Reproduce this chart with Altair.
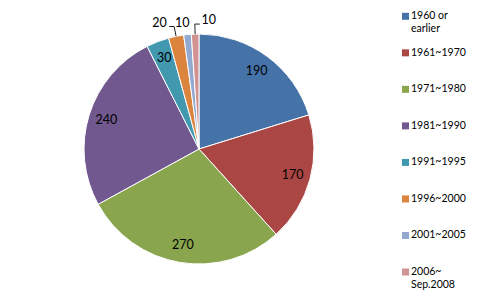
import altair as alt
import pandas as pd

periods = ["1960 or earlier", "1961~1970", "1971~1980", "1981~1990",
           "1991~1995", "1996~2000", "2001~2005", "2006~Sep.2008"]
legend_labels = ["1960 or\nearlier", "1961~1970", "1971~1980", "1981~1990",
                 "1991~1995", "1996~2000", "2001~2005", "2006~\nSep.2008"]
counts = [190, 170, 270, 240, 30, 20, 10, 10]
colors = ["#4572A7", "#AA4643", "#89A54E", "#71588F",
          "#4198AF", "#DB843D", "#93A9CF", "#D19392"]

df = pd.DataFrame({
    "period": periods,
    "label": legend_labels,
    "count": counts,
    "order": list(range(len(periods))),
})

CX, CY, R = 199, 149, 115
FONT = "Lato"

color_enc = alt.Color("period:N", scale=alt.Scale(domain=periods, range=colors), legend=None)

pie = alt.Chart(df).mark_arc(outerRadius=R, stroke="white", strokeWidth=1).encode(
    theta=alt.Theta("count:Q", stack=True),
    order=alt.Order("order:Q"),
    color=color_enc,
    x=alt.value(CX), y=alt.value(CY),
)

geo = alt.Chart(df).transform_window(
    cum="sum(count)", sort=[alt.SortField("order")]
).transform_joinaggregate(
    total="sum(count)"
).transform_calculate(
    mid="(datum.cum - datum.count / 2) / datum.total * 2 * PI"
)

txt_style = dict(font=FONT, fontSize=12.5, color="black", align="center", baseline="middle")

inside = geo.transform_filter("datum.count >= 25").mark_text(radius=97, **txt_style).encode(
    theta=alt.Theta("mid:Q", scale=None), text="count:Q",
    x=alt.value(CX), y=alt.value(CY),
)

def outer(period, dx, dy):
    return geo.transform_filter(alt.datum.period == period).mark_text(
        radius=128, dx=dx, dy=dy, **txt_style
    ).encode(
        theta=alt.Theta("mid:Q", scale=None), text="count:Q",
        x=alt.value(CX), y=alt.value(CY),
    )

out_a = outer(periods[5], -14, -1)
out_b = outer(periods[6], -4, 1)
out_c = outer(periods[7], 14, -1)

leader = geo.transform_filter(
    (alt.datum.period == periods[5]) | (alt.datum.period == periods[7])
).transform_calculate(
    dir=f"datum.period === '{periods[7]}' ? 1 : -1",
    x0=f"{CX} + {R} * sin(datum.mid)",
    y0=f"{CY} - {R} * cos(datum.mid)",
    x1=f"{CX} + 125 * sin(datum.mid)",
    y1=f"{CY} - 125 * cos(datum.mid)",
).transform_calculate(
    x2="datum.x1 + datum.dir * 5"
)

lead1 = leader.mark_rule(color="#222", strokeWidth=1).encode(
    x=alt.X("x0:Q", scale=None, axis=None), y=alt.Y("y0:Q", scale=None, axis=None),
    x2="x1:Q", y2="y1:Q",
)
lead2 = leader.mark_rule(color="#222", strokeWidth=1).encode(
    x=alt.X("x1:Q", scale=None, axis=None), y=alt.Y("y1:Q", scale=None, axis=None),
    x2="x2:Q", y2="y1:Q",
)

ly = alt.Y("period:N", scale=alt.Scale(domain=periods, range=[16.3, 272], padding=0), axis=None)

leg_sq = alt.Chart(df).mark_point(shape="square", filled=True, size=49, opacity=1).encode(
    x=alt.value(405.5), y=ly, color=color_enc,
)
leg_txt = alt.Chart(df).mark_text(
    font=FONT, fontSize=10.5, color="black", align="left", baseline="top",
    dy=-5, lineBreak="\n", lineHeight=13,
).encode(
    x=alt.value(411), y=ly, text="label:N",
)

chart = alt.layer(
    pie, inside, out_a, out_b, out_c, lead1, lead2, leg_sq, leg_txt
).resolve_scale(y="independent").properties(
    width=489, height=298, padding=0,
    autosize=alt.AutoSizeParams(type="none"),
    background="white",
).configure_view(stroke=None)

chart.save("out.html", embed_options={"renderer": "svg", "actions": False})
